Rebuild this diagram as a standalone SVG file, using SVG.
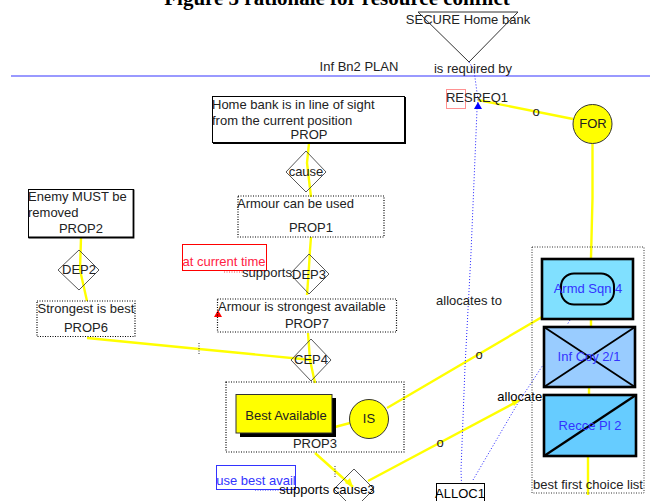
<svg xmlns="http://www.w3.org/2000/svg" width="650" height="501" viewBox="0 0 650 501">
<style>
text{font-family:"Liberation Sans",Arial,sans-serif;font-size:13px;fill:#222}
.m{text-anchor:middle}
.d{fill:none;stroke:#000;stroke-width:1.200;stroke-dasharray:1 1.500}
.y{fill:none;stroke:#ffff00;stroke-width:2.400}
.bd{fill:none;stroke:#2222ff;stroke-width:1;stroke-dasharray:1 2}
.dia{fill:none;stroke:#444;stroke-width:.9}
.u{fill:#3333ff}
.cell{stroke:#000;stroke-width:2.600}
</style>
<text x="337" y="5" class="m" style="font-family:'Liberation Serif',serif;font-weight:bold;font-size:21px;fill:#000">Figure 5 rationale for resource conflict</text>
<line x1="11" y1="76" x2="650" y2="76" stroke="#7777ff" stroke-width="1.600"/>
<text x="359" y="71" class="m">Inf Bn2 PLAN</text>

<g id="connectors">
<path class="y" d="M309 143L307 163L311 197M311 237L310 250L309 267L307 295M81 238L80 270L87 301M308 333L310 360L315 383M87 338L199 349L312 360M335 427L350 423M387 408L542 317M315 453L353 487M368 481L520 400M478 100L573 119M592.500 143.500V198L591 258M591 319V327M589 387V395M588 456V495"/>
<path class="bd" d="M469 62L474 70L478 100L477 110L471 253L465 367L461 470L462 498M473 480L518 403L543 365M570 320L567 325"/>
<polygon points="478,102 474,109 482,109" fill="#0000ff"/>
<polygon points="218,310 214,317 222,317" fill="#ff0000"/>
<polygon points="353,487 345,483 350,478" fill="#ffff00"/>
<polygon points="520,400 511,400 514,406" fill="#ffff00"/>
<path d="M224 272H242" stroke="#ff4444" stroke-dasharray="1 1.500" fill="none"/>
<path d="M255 490H282" stroke="#2222ff" stroke-dasharray="1 1.500" fill="none"/>
<path d="M199 343V354M335 466V477" stroke="#333" stroke-dasharray="1 1.500" fill="none"/>
<text x="536" y="116" class="m">o</text>
<text x="479" y="359" class="m">o</text>
<text x="440" y="447" class="m">o</text>
</g>

<text x="473" y="73" class="m">is required by</text>
<g id="SECURE">
<path d="M418 12H518L469 62Z" fill="none" stroke="#333"/>
<text x="468" y="24" class="m">SECURE Home bank</text>
</g>
<g id="RESREQ1">
<rect x="446.500" y="89.500" width="19" height="19" fill="none" stroke="#ff2222" stroke-dasharray="1 1"/>
<text x="477" y="102" class="m">RESREQ1</text>
</g>
<g id="FOR">
<circle cx="592.500" cy="124" r="19.500" fill="#ffff00" stroke="#333"/>
<text x="593" y="128" class="m">FOR</text>
</g>
<g id="PROP">
<rect x="212.500" y="96.500" width="192" height="46" fill="#fff" stroke="#000"/>
<path d="M405 97V143H213" stroke="#000" stroke-width="2" fill="none"/>
<text x="212" y="109">Home bank is in line of sight</text>
<text x="212" y="125">from the current position</text>
<text x="309" y="139" class="m">PROP</text>
</g>
<g id="cause">
<path class="dia" d="M306 151L326 172L306 192L286 172Z"/>
<text x="306" y="176" class="m">cause</text>
</g>
<g id="PROP1">
<rect class="d" x="238" y="196" width="146" height="41"/>
<text x="237" y="208">Armour can be used</text>
<text x="311" y="232" class="m">PROP1</text>
</g>
<g id="PROP2">
<rect x="28.500" y="189.500" width="105" height="48" fill="#fff" stroke="#000"/>
<path d="M133.500 189.500V237.500H28.500" stroke="#000" stroke-width="1.800" fill="none"/>
<text x="28" y="201">Enemy MUST be</text>
<text x="28" y="217">removed</text>
<text x="81" y="233" class="m">PROP2</text>
</g>
<g id="DEP2">
<path class="dia" d="M79 250L99 270L79 290L58 270Z"/>
<text x="79" y="274" class="m">DEP2</text>
</g>
<g id="PROP6">
<rect class="d" x="37" y="301" width="98" height="35.500"/>
<text x="86" y="313" class="m">Strongest is best</text>
<text x="86" y="332" class="m">PROP6</text>
</g>
<g id="currentTime">
<rect x="182.500" y="244.500" width="84" height="26" fill="#fff" stroke="#ff0000"/>
<text x="224" y="266" class="m" style="fill:#ff2244">at current time</text>
</g>
<text x="267" y="277" class="m">supports</text>
<g id="DEP3">
<path class="dia" d="M309 254L329 274L309 294L290 274Z"/>
<text x="309" y="279" class="m">DEP3</text>
</g>
<g id="PROP7">
<rect class="d" x="217.500" y="299" width="179" height="33"/>
<text x="218" y="311">Armour is strongest available</text>
<text x="307" y="328" class="m">PROP7</text>
</g>
<g id="CEP4">
<path class="dia" d="M311 339L331 360L311 381L291 360Z"/>
<text x="311" y="364" class="m">CEP4</text>
</g>
<g id="PROP3">
<rect class="d" x="226" y="382" width="178" height="70"/>
<rect x="240" y="398" width="96" height="39" fill="#000"/>
<rect x="236" y="394.500" width="96" height="38.500" fill="#ffff00" stroke="#333"/>
<text x="286" y="420" class="m">Best Available</text>
<text x="315" y="448" class="m">PROP3</text>
</g>
<g id="IS">
<circle cx="369" cy="419" r="19.500" fill="#ffff00" stroke="#333"/>
<text x="369" y="423" class="m">IS</text>
</g>
<g id="useBest">
<rect x="216.500" y="465.500" width="79" height="24" fill="#fff" stroke="#3333ff"/>
<text x="256" y="485" class="m u">use best avail</text>
</g>
<g id="cause3">
<path class="dia" d="M354 469L374 489L354 509L334 489Z"/>
</g>
<text x="327" y="494" class="m" style="fill:#000">supports cause3</text>
<g id="ALLOC1">
<rect x="436.500" y="483.500" width="48" height="30" fill="#fff" stroke="#000"/>
<text x="460" y="498" class="m" style="fill:#000">ALLOC1</text>
</g>
<text x="469" y="305" class="m">allocates to</text>
<text x="523" y="401" class="m" style="fill:#000">allocates</text>
<g id="list">
<rect x="532" y="247" width="112" height="246" fill="none" stroke="#333" stroke-dasharray="1 1.500"/>
<text x="588" y="489" class="m">best first choice list</text>
</g>
<g id="ArmdSqn4">
<rect class="cell" x="542" y="259" width="91" height="60" fill="#80e0ff"/>
<rect x="561" y="273.500" width="53" height="31" rx="13" fill="#80e0ff" stroke="#000" stroke-width="2"/>
<text x="588" y="293" class="m u">Armd Sqn 4</text>
</g>
<g id="InfCoy">
<rect class="cell" x="544" y="327" width="91" height="60" fill="#99ccff"/>
<path d="M544 327L635 387M635 327L544 387" stroke="#000" stroke-width="1.800"/>
<text x="589" y="361" class="m u">Inf Coy 2/1</text>
</g>
<g id="ReccePl2">
<rect class="cell" x="544" y="395" width="92" height="61" fill="#66ccff"/>
<path d="M544 456L636 395" stroke="#000" stroke-width="2.200"/>
<text x="590" y="430" class="m u">Recce Pl 2</text>
</g>
</svg>
